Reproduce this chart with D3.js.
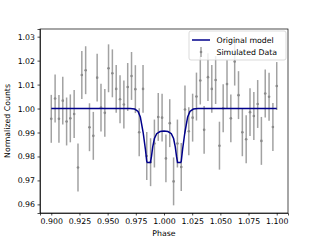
<!DOCTYPE html>
<html>
<head>
<meta charset="utf-8">
<script src="https://cdn.jsdelivr.net/npm/d3@7"></script>
<style>
  body { margin: 0; background: #fff; }
  text { font-family: "DejaVu Sans", sans-serif; }
  .axis path { stroke: #000; stroke-width: 0.7; }
  .axis line { stroke: #000; stroke-width: 0.7; }
  .axis text { font-size: 7.8px; fill: #000; }
</style>
</head>
<body>
<svg width="320" height="240"></svg>
<script>
// simulated data (phase, normalized counts)
var phases = [0.9000, 0.9034, 0.9068, 0.9102, 0.9136, 0.9169, 0.9203, 0.9237, 0.9271, 0.9305,
              0.9339, 0.9373, 0.9407, 0.9441, 0.9475, 0.9508, 0.9542, 0.9576, 0.9610, 0.9644,
              0.9678, 0.9712, 0.9746, 0.9780, 0.9814, 0.9847, 0.9881, 0.9915, 0.9949, 0.9983,
              1.0017, 1.0051, 1.0085, 1.0119, 1.0153, 1.0186, 1.0220, 1.0254, 1.0288, 1.0322,
              1.0356, 1.0390, 1.0424, 1.0458, 1.0492, 1.0525, 1.0559, 1.0593, 1.0627, 1.0661,
              1.0695, 1.0729, 1.0763, 1.0797, 1.0831, 1.0864, 1.0898, 1.0932, 1.0966, 1.1000];
var counts = [0.9957, 1.0042, 0.9957, 1.0033, 0.9946, 0.9959, 0.9977, 0.9754, 1.0140, 1.0160,
              0.9922, 0.9886, 1.0129, 1.0004, 0.9982, 1.0168, 1.0147, 1.0082, 1.0039, 1.0017,
              1.0090, 1.0136, 1.0081, 0.9901, 1.0082, 0.9802, 0.9776, 0.9854, 0.9965, 0.9962,
              0.9792, 0.9939, 0.9696, 0.9854, 0.9756, 0.9996, 0.9905, 0.9962, 1.0050, 1.0117,
              0.9911, 1.0131, 1.0082, 1.0119, 0.9845, 1.0001, 1.0102, 0.9959, 1.0196, 1.0056,
              0.9901, 0.9872, 0.9985, 0.9969, 1.0019, 0.9865, 1.0063, 1.0049, 0.9923, 1.0094];
var errVal = 0.01;

// original model curve
var modelPhase = [0.900, 0.970, 0.974, 0.977, 0.979, 0.9815, 0.9835, 0.9847, 0.9852, 0.9880, 0.9889,
                  0.9900, 0.9915, 0.9935, 0.9965, 1.0000, 1.0035, 1.0065, 1.0085, 1.0100, 1.0111,
                  1.0120, 1.0148, 1.0153, 1.0165, 1.0185, 1.0210, 1.0230, 1.0260, 1.030, 1.100];
var modelFlux  = [1.0000, 1.0000, 0.9998, 0.9988, 0.9965, 0.9900, 0.9830, 0.9780, 0.9775, 0.9775, 0.9800,
                  0.9840, 0.9875, 0.9895, 0.9904, 0.9906, 0.9904, 0.9895, 0.9875, 0.9840, 0.9800,
                  0.9775, 0.9775, 0.9780, 0.9830, 0.9900, 0.9965, 0.9988, 0.9998, 1.0000, 1.0000];

var xTicks = [0.900, 0.925, 0.950, 0.975, 1.000, 1.025, 1.050, 1.075, 1.100];
var yTicks = [0.96, 0.97, 0.98, 0.99, 1.00, 1.01, 1.02, 1.03];

var data = phases.map((p, i) => ({phase: p, count: counts[i]}));
var model = modelPhase.map((p, i) => ({phase: p, flux: modelFlux[i]}));

var svg = d3.select("svg"),
    margin = {top: 29, right: 32, bottom: 27, left: 40},
    width = +svg.attr("width") - margin.left - margin.right,
    height = +svg.attr("height") - margin.top - margin.bottom,
    g = svg.append("g").attr("transform", "translate(" + margin.left + "," + margin.top + ")");

var x = d3.scaleLinear().domain([0.89, 1.11]).range([0, width]);
var y = d3.scaleLinear().domain([0.9564, 1.0332]).range([height, 0]);

// error bars + points
var pts = g.append("g");
pts.selectAll("line")
    .data(data)
  .enter().append("line")
    .attr("x1", d => x(d.phase))
    .attr("x2", d => x(d.phase))
    .attr("y1", d => y(d.count - errVal))
    .attr("y2", d => y(d.count + errVal))
    .attr("stroke", "#a2a2a2")
    .attr("stroke-width", 1.5);
pts.selectAll("circle")
    .data(data)
  .enter().append("circle")
    .attr("cx", d => x(d.phase))
    .attr("cy", d => y(d.count))
    .attr("r", 1.3)
    .attr("fill", "#8a8a8a");

var line = d3.line()
    .x(d => x(d.phase))
    .y(d => y(d.flux));

g.append("path")
    .datum(model)
    .attr("fill", "none")
    .attr("stroke", "#00008b")
    .attr("stroke-width", 1.5)
    .attr("d", line);

// axes
g.append("g").attr("class", "axis")
    .attr("transform", "translate(0," + height + ")")
    .call(d3.axisBottom(x).tickValues(xTicks).tickFormat(d3.format(".3f")).tickSizeOuter(0).tickSize(2.5).tickPadding(2.5));

g.append("g").attr("class", "axis")
    .call(d3.axisLeft(y).tickValues(yTicks).tickFormat(d3.format(".2f")).tickSizeOuter(0).tickSize(2.5).tickPadding(2.5));

g.append("rect")
    .attr("width", width).attr("height", height)
    .attr("fill", "none").attr("stroke", "#000").attr("stroke-width", 0.7);

svg.append("text")
    .attr("x", margin.left + width / 2).attr("y", 236)
    .attr("text-anchor", "middle").attr("font-size", 7.8)
    .text("Phase");

svg.append("text")
    .attr("transform", "translate(10," + (margin.top + height / 2) + ") rotate(-90)")
    .attr("text-anchor", "middle").attr("font-size", 7.8)
    .text("Normalized Counts");

// legend
var lg = svg.append("g").attr("transform", "translate(189,31)");
lg.append("rect")
    .attr("width", 97).attr("height", 29).attr("rx", 2)
    .attr("fill", "#fff").attr("fill-opacity", 0.8)
    .attr("stroke", "#ccc").attr("stroke-width", 0.7);
lg.append("line")
    .attr("x1", 3).attr("x2", 21).attr("y1", 9).attr("y2", 9)
    .attr("stroke", "#00008b").attr("stroke-width", 1.5);
lg.append("line")
    .attr("x1", 12).attr("x2", 12).attr("y1", 16).attr("y2", 26)
    .attr("stroke", "#a2a2a2").attr("stroke-width", 1.5);
lg.append("circle")
    .attr("cx", 12).attr("cy", 21).attr("r", 1.3).attr("fill", "#8a8a8a");
lg.append("text").attr("x", 27.5).attr("y", 12).attr("font-size", 7.8).text("Original model");
lg.append("text").attr("x", 27.5).attr("y", 24).attr("font-size", 7.8).text("Simulated Data");
</script>
</body>
</html>
